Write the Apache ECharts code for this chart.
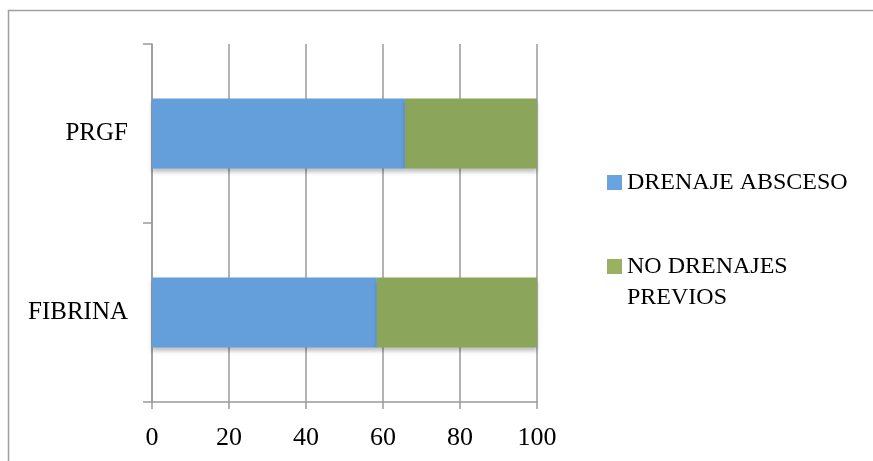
<!DOCTYPE html>
<html>
<head>
<meta charset="utf-8">
<script src="https://cdn.jsdelivr.net/npm/echarts@6/dist/echarts.min.js"></script>
<style>
  html, body { margin: 0; padding: 0; background: #fff; overflow: hidden; }
  #chart { width: 873px; height: 461px; }
</style>
</head>
<body>
<div id="chart"></div>
<script>
// Categories (bottom to top) and percentage values per group
const categories = ['FIBRINA', 'PRGF'];
const drenajeAbsceso = [58.4, 65.7];
const noDrenajesPrevios = [41.6, 34.3];
const xTicks = [0, 20, 40, 60, 80, 100];
const seriesNames = ['DRENAJE ABSCESO', 'NO DRENAJES\nPREVIOS'];

const FONT = 'Liberation Serif';
const AXIS_GREY = '#9a9a9a';
const BLUE = '#649fdb';
const GREEN = '#8ba65a';

const chart = echarts.init(document.getElementById('chart'), null, { renderer: 'canvas' });

const barShadow = {
  shadowColor: 'rgba(0,0,0,0.25)',
  shadowBlur: 4,
  shadowOffsetY: 3
};

chart.setOption({
  animation: false,
  backgroundColor: '#fff',
  // chart-area frame: top and left edges
  graphic: [{
    type: 'polyline',
    shape: { points: [[8.5, 461], [8.5, 10.5], [873, 10.5]] },
    style: { fill: 'none', stroke: '#a0a0a0', lineWidth: 1.5 },
    silent: true
  }],
  grid: { left: 152, right: 336, top: 44, bottom: 59, containLabel: false },
  legend: {
    orient: 'vertical',
    left: 607,
    top: 167,
    padding: 0,
    itemWidth: 15,
    itemHeight: 15,
    itemGap: 22,
    icon: 'rect',
    // leading blank line keeps the icon level with the first line of a two-line name
    formatter: function (name) {
      return name.indexOf('\n') >= 0 ? '\n' + name : name;
    },
    textStyle: { fontFamily: FONT, fontSize: 24, color: '#000', lineHeight: 31 },
    data: [
      { name: seriesNames[0], itemStyle: { color: '#6aa4de' } },
      { name: seriesNames[1], itemStyle: { color: '#9bb161' } }
    ]
  },
  xAxis: {
    type: 'value',
    min: xTicks[0],
    max: xTicks[xTicks.length - 1],
    interval: 20,
    axisLine: { show: true, lineStyle: { color: AXIS_GREY, width: 1.5 } },
    axisTick: { show: true, length: 7, lineStyle: { color: AXIS_GREY, width: 1.5 } },
    axisLabel: { fontFamily: FONT, fontSize: 26, color: '#000', margin: 23 },
    splitLine: { show: true, lineStyle: { color: AXIS_GREY, width: 1.5 } }
  },
  yAxis: {
    type: 'category',
    data: categories,
    axisLine: { show: true, lineStyle: { color: AXIS_GREY, width: 1.5 } },
    axisTick: { show: true, length: 9, lineStyle: { color: AXIS_GREY, width: 1.5 } },
    axisLabel: { fontFamily: FONT, fontSize: 25, color: '#000', margin: 24 },
    splitLine: { show: false }
  },
  series: [
    {
      name: seriesNames[0],
      type: 'bar',
      stack: 'total',
      barWidth: 70,
      data: drenajeAbsceso,
      itemStyle: Object.assign({ color: BLUE }, barShadow)
    },
    {
      name: seriesNames[1],
      type: 'bar',
      stack: 'total',
      barWidth: 70,
      data: noDrenajesPrevios,
      itemStyle: Object.assign({ color: GREEN }, barShadow)
    }
  ]
});
</script>
</body>
</html>
